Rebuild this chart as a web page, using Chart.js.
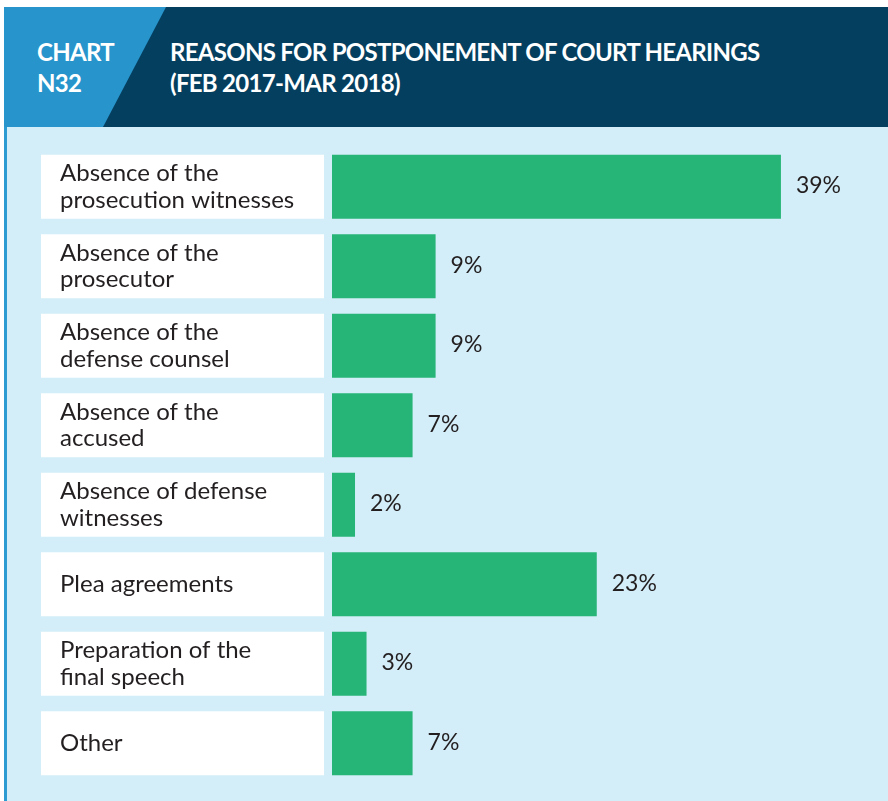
<!DOCTYPE html>
<html>
<head>
<meta charset="utf-8">
<script src="https://cdn.jsdelivr.net/npm/chart.js@4/dist/chart.umd.min.js"></script>
<style>
  html, body { margin: 0; padding: 0; background: #ffffff; }
  #page { position: relative; width: 888px; height: 801px; overflow: hidden; font-family: Lato, "Open Sans", sans-serif; }
  #header { position: absolute; left: 4px; top: 7px; width: 884px; height: 120px; background: #053f60; }
  #header .tag { position: absolute; left: 0; top: 0; width: 100%; height: 100%; background: #2795cc;
    clip-path: polygon(0 0, 162px 0, 99px 100%, 0 100%); }
  #header .txt { position: absolute; top: 29px; color: #ffffff; font-weight: bold; font-size: 24px; line-height: 31px; letter-spacing: -0.7px; }
  #panel { position: absolute; left: 4px; top: 127px; width: 881px; height: 674px; background: #d3eef9; border-left: 3px solid #2b9bd2; }
  #chartCanvas { position: absolute; left: 0; top: 0; }
</style>
</head>
<body>
<div id="page">
  <div id="header">
    <div class="tag"></div>
    <div class="txt" style="left:33px">CHART<br>N32</div>
    <div class="txt" style="left:166px">REASONS FOR POSTPONEMENT OF COURT HEARINGS<br>(FEB 2017-MAR 2018)</div>
  </div>
  <div id="panel"></div>
  <!-- canvas runs a little past the page so the two-line top label doesn't squeeze the bottom row -->
  <canvas id="chartCanvas" width="888" height="810"></canvas>
</div>
<script>
// reasons, top to bottom
var reasons = [
  ['Absence of the', 'prosecution witnesses'],
  ['Absence of the', 'prosecutor'],
  ['Absence of the', 'defense counsel'],
  ['Absence of the', 'accused'],
  ['Absence of defense', 'witnesses'],
  'Plea agreements',
  ['Preparation of the', 'final speech'],
  'Other'
];
// share of postponed hearings, %
var shares = [39, 9, 9, 7, 2, 23, 3, 7];

var textColor = '#231f20';
var labelFont = { family: 'Lato, "Open Sans", sans-serif', size: 24, lineHeight: 1.12 };

// white box behind each reason, same height as its bar
var labelBoxes = {
  id: 'labelBoxes',
  beforeDraw: function(chart) {
    var ctx = chart.ctx;
    var meta = chart.getDatasetMeta(0);
    ctx.save();
    ctx.fillStyle = '#ffffff';
    meta.data.forEach(function(bar) {
      ctx.fillRect(41, bar.y - bar.height / 2, 283, bar.height);
    });
    ctx.restore();
  }
};

// percentage next to the end of each bar
var valueLabels = {
  id: 'valueLabels',
  afterDatasetsDraw: function(chart) {
    var ctx = chart.ctx;
    var meta = chart.getDatasetMeta(0);
    ctx.save();
    ctx.fillStyle = textColor;
    ctx.font = '23px ' + labelFont.family;
    ctx.textAlign = 'left';
    ctx.textBaseline = 'middle';
    meta.data.forEach(function(bar, i) {
      ctx.fillText(shares[i] + '%', bar.x + 15, bar.y - 1);
    });
    ctx.restore();
  }
};

var ctx = document.getElementById('chartCanvas').getContext('2d');
new Chart(ctx, {
  type: 'bar',
  data: {
    labels: reasons,
    datasets: [{
      data: shares,
      backgroundColor: '#26b576',
      borderWidth: 0,
      barPercentage: 0.805,
      categoryPercentage: 1
    }]
  },
  options: {
    indexAxis: 'y',
    responsive: false,
    animation: false,
    layout: { padding: { left: 60, right: 38, top: 147, bottom: 27 } },
    plugins: { legend: { display: false }, tooltip: { enabled: false } },
    scales: {
      x: { display: false, min: 0, max: 45 },
      y: {
        grid: { display: false },
        border: { display: false },
        ticks: { crossAlign: 'far', padding: 0, color: textColor, font: labelFont },
        afterFit: function(scale) { scale.width = 272; }
      }
    }
  },
  plugins: [labelBoxes, valueLabels]
});
</script>
</body>
</html>
